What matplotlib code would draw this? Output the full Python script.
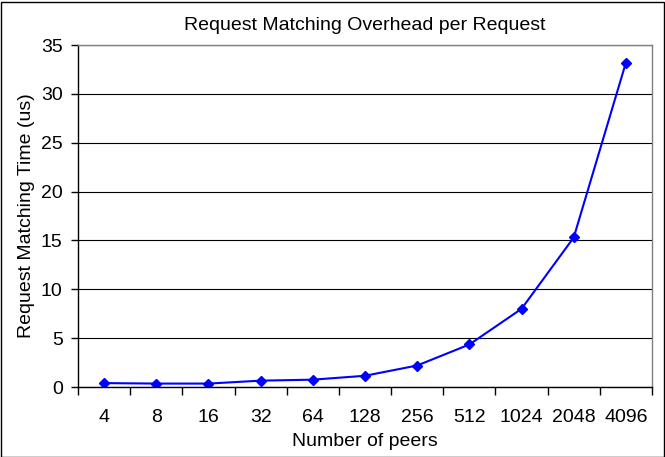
import matplotlib
matplotlib.use("Agg")
import matplotlib.pyplot as plt
import numpy as np

plt.rcParams['font.family'] = ['Liberation Sans', 'DejaVu Sans']

peers = ["4", "8", "16", "32", "64", "128", "256", "512", "1024", "2048", "4096"]
match_time = [0.4, 0.35, 0.35, 0.65, 0.75, 1.15, 2.2, 4.35, 8.0, 15.3, 33.2]

fig = plt.figure(figsize=(6.65, 4.57), dpi=100)
ax = fig.add_axes([78 / 665, 1 - 387 / 457, (652 - 78) / 665, (387 - 45) / 457])

x = np.arange(len(peers))
ax.plot(x, match_time, color="#0000ff", marker="D", markersize=5, linewidth=1.5)

ax.set_xlim(-0.5, len(peers) - 0.5)
ax.set_ylim(0, 35)
ax.set_yticks(np.arange(0, 36, 5))
ax.yaxis.grid(True, color="black", linewidth=0.8)
ax.set_axisbelow(True)

# category labels centered, tick marks between categories
ax.set_xticks(x)
ax.set_xticklabels(peers, fontsize=14)
ax.tick_params(axis="x", length=0, pad=16)
ax.set_xticks(np.arange(-0.5, len(peers), 1), minor=True)
ax.tick_params(axis="x", which="minor", length=6, width=1, direction="out")
ax.tick_params(axis="y", length=5, width=1, direction="out", labelsize=14, pad=6)

for s in ["top", "right"]:
    ax.spines[s].set_color("#808080")
    ax.spines[s].set_linewidth(1)
for s in ["left", "bottom"]:
    ax.spines[s].set_color("black")
    ax.spines[s].set_linewidth(1)

ax.set_title("Request Matching Overhead per Request", fontsize=14, pad=11)
ax.set_xlabel("Number of peers", fontsize=14, labelpad=5)
ax.set_ylabel("Request Matching Time (us)", fontsize=14, labelpad=4)

fig.patches.append(plt.Rectangle((0.001, 0.001), 0.997, 0.994, transform=fig.transFigure,
                                 fill=False, edgecolor="black", linewidth=1))

fig.savefig("out.png", dpi=100)
